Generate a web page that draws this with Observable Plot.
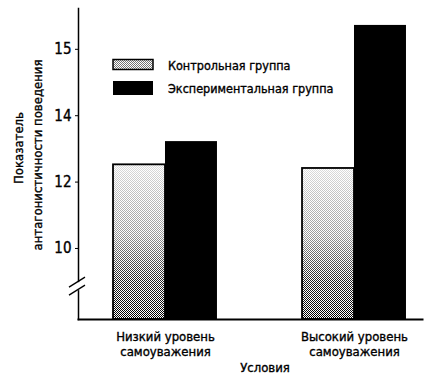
<!DOCTYPE html>
<html><head><meta charset="utf-8">
<script src="https://cdn.jsdelivr.net/npm/d3@7"></script>
<script src="https://cdn.jsdelivr.net/npm/@observablehq/plot@0.6"></script>
<style>
body{margin:0;background:#fff;}
#chart{position:relative;width:434px;height:380px;}
#chart text{stroke:#000;stroke-width:0.35px;}
</style></head><body><div id="chart"></div>
<script>
// ---- data ----
const conditions = ["Низкий уровень\nсамоуважения", "Высокий уровень\nсамоуважения"];
const groups = ["Контрольная группа", "Экспериментальная группа"];
const controlValues = [12.52, 12.41];
const experimentalValues = [13.22, 16.72];
const yTickValues = [10, 12, 14, 16];
const yTickLabels = ["10", "12", "14", "15"];
const yTitleLines = ["Показатель", "антагонистичности поведения"];
const xTitle = "Условия";

// ---- layout ----
const W = 434, H = 380, mL = 78, mR = 12, mT = 8, mB = 61;
const yMin = 7.86, yMax = 17.23, yBreak = 8.85;
const FONT = '"Liberation Sans Narrow", "DejaVu Sans Condensed", "Arial Narrow", sans-serif';
const xOpts = {type: "band", domain: conditions, paddingInner: 0.45, paddingOuter: 0.135, align: 0.686, round: false};
const bw = d3.scaleBand().domain(conditions).range([mL, W - mR])
  .paddingInner(xOpts.paddingInner).paddingOuter(xOpts.paddingOuter).align(xOpts.align).bandwidth();
const half = bw / 2;

const rows = conditions.flatMap((c, i) => [
  {condition: c, group: groups[0], value: controlValues[i]},
  {condition: c, group: groups[1], value: experimentalValues[i]}
]);
const ctrlRows = rows.filter(d => d.group === groups[0]);
const expRows = rows.filter(d => d.group === groups[1]);

function defs() {
  const g = d3.create("svg:g");
  const d = g.append("defs");
  const p = d.append("pattern").attr("id", "dots").attr("patternUnits", "userSpaceOnUse")
    .attr("width", 2).attr("height", 2);
  p.append("rect").attr("x", 0).attr("y", 0).attr("width", 1).attr("height", 1).attr("fill", "#000");
  p.append("rect").attr("x", 1).attr("y", 1).attr("width", 1).attr("height", 1).attr("fill", "#000");
  const lg = d.append("linearGradient").attr("id", "mg").attr("x1", 0).attr("y1", 0).attr("x2", 0).attr("y2", 1);
  lg.append("stop").attr("offset", 0).attr("stop-color", "#222");
  lg.append("stop").attr("offset", 0.45).attr("stop-color", "#666");
  lg.append("stop").attr("offset", 0.75).attr("stop-color", "#ddd");
  lg.append("stop").attr("offset", 1).attr("stop-color", "#fff");
  const m = d.append("mask").attr("id", "fade").attr("maskContentUnits", "objectBoundingBox");
  m.append("rect").attr("width", 1).attr("height", 1).attr("fill", "url(#mg)");
  return g.node();
}

function decorations(index, scales, values, dims) {
  const g = d3.create("svg:g").attr("font-family", FONT).attr("fill", "black").attr("text-anchor", "start");
  // axis break
  const yb = scales.y(yBreak);
  g.append("rect").attr("x", mL - 2).attr("y", yb - 4).attr("width", 4).attr("height", 8).attr("fill", "white");
  for (const o of [-4, 4]) {
    g.append("line").attr("x1", mL - 9).attr("y1", yb + o + 5).attr("x2", mL + 7).attr("y2", yb + o - 5)
      .attr("stroke", "black").attr("stroke-width", 1.3);
  }
  // legend
  const lx = 113;
  g.append("rect").attr("x", lx).attr("y", 59.5).attr("width", 40).attr("height", 10).attr("fill", "white")
    .attr("stroke", "black").attr("stroke-width", 1.5);
  g.append("rect").attr("x", lx).attr("y", 59.5).attr("width", 40).attr("height", 10).attr("fill", "url(#dots)")
    .attr("opacity", 0.55);
  g.append("rect").attr("x", lx).attr("y", 81).attr("width", 40).attr("height", 14).attr("fill", "black");
  g.append("text").attr("x", 168).attr("y", 70).attr("font-size", 12.5).text(groups[0]);
  g.append("text").attr("x", 168).attr("y", 93).attr("font-size", 12.5).text(groups[1]);
  // y title
  g.append("text").attr("transform", `translate(23,148) rotate(-90)`).attr("text-anchor", "middle")
    .attr("font-size", 13).text(yTitleLines[0]);
  g.append("text").attr("transform", `translate(42,155) rotate(-90)`).attr("text-anchor", "middle")
    .attr("font-size", 13).text(yTitleLines[1]);
  // x title
  g.append("text").attr("x", 265).attr("y", 372).attr("text-anchor", "middle").attr("font-size", 13).text(xTitle);
  return g.node();
}

const chart = Plot.plot({
  width: W, height: H,
  marginLeft: mL, marginRight: mR, marginTop: mT, marginBottom: mB,
  x: {...xOpts, axis: null},
  y: {domain: [yMin, yMax], axis: null},
  style: {fontFamily: FONT, fontSize: "13px", color: "black", background: "white", overflow: "visible"},
  marks: [
    defs,
    Plot.barY(ctrlRows, {x: "condition", y1: yMin, y2: "value", fill: "white", insetRight: half}),
    Plot.barY(ctrlRows, {x: "condition", y1: yMin, y2: "value", fill: "url(#dots)", insetRight: half}),
    Plot.barY(ctrlRows, {x: "condition", y1: yMin, y2: "value", fill: "none", stroke: "black", strokeWidth: 1.8, insetRight: half}),
    Plot.barY(expRows, {x: "condition", y1: yMin, y2: "value", fill: "black", insetLeft: half}),
    Plot.frame({anchor: "left", strokeWidth: 1.5}),
    Plot.frame({anchor: "bottom", strokeWidth: 2}),
    Plot.axisY({ticks: yTickValues, label: null, tickFormat: (d) => yTickLabels[yTickValues.indexOf(d)], tickSize: 3, tickPadding: 4, fontSize: 15}),
    Plot.text(conditions, {x: d => d, y: yMin, text: d => d, dy: 11, lineAnchor: "top", fontSize: 13, lineHeight: 1.15}),
    decorations
  ]
});
d3.select(chart).selectAll('g[fill="url(#dots)"] rect').attr("mask", "url(#fade)");
document.getElementById("chart").appendChild(chart);
</script></body></html>
